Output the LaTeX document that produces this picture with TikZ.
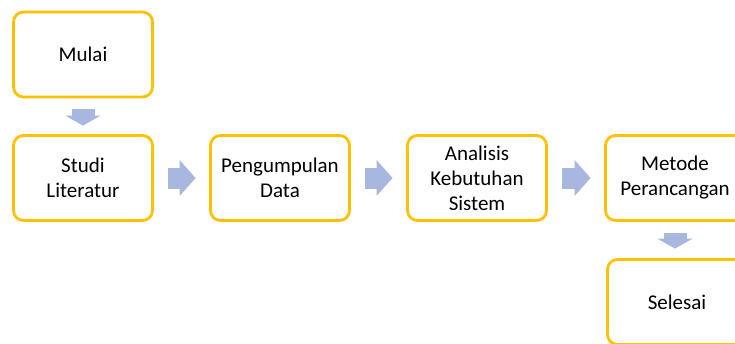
\documentclass[tikz,border=0pt]{standalone}
\usepackage{fontspec}
\setmainfont{Carlito}
\usetikzlibrary{arrows.meta}
\definecolor{kuning}{RGB}{255,192,0}
\definecolor{panah}{RGB}{168,183,222}

\begin{document}
\begin{tikzpicture}[x=1pt, y=-1pt,
  langkah/.style={draw=kuning, line width=2.8pt, rounded corners=10pt,
    minimum width=139pt, minimum height=85pt, inner sep=0pt,
    align=center, font=\fontsize{21}{25}\selectfont},
  alir/.style={draw=panah, line width=21pt, -{Triangle[length=16pt, width=35pt]}},
  turun/.style={draw=panah, line width=23pt, -{Triangle[length=10pt, width=35pt]}}]
  \useasboundingbox (0,0) rectangle (735,343);

  % kotak tahapan
  \node[langkah] (mulai)   at (83,54.5) {Mulai};
  \node[langkah] (studi)   at (83,178)  {Studi\\Literatur};
  \node[langkah] (kumpul)  at (280,178) {Pengumpulan\\Data};
  \node[langkah] (analisis) at (477,178) {Analisis\\Kebutuhan\\Sistem};
  \node[langkah] (metode)  at (675,178) {Metode\\Perancangan};
  \node[langkah] (selesai) at (677,302) {Selesai};

  % panah alur
  \draw[turun, shorten <=11pt, shorten >=8.5pt] (mulai) -- (studi);
  \draw[alir, shorten <=14.5pt, shorten >=13.5pt] (studi) -- (kumpul);
  \draw[alir, shorten <=14.5pt, shorten >=13.5pt] (kumpul) -- (analisis);
  \draw[alir, shorten <=14.5pt, shorten >=13.5pt] (analisis) -- (metode);
  \draw[turun, shorten <=11.5pt, shorten >=9.5pt] (metode.south) -- (metode.south |- selesai.north);
\end{tikzpicture}
\end{document}
